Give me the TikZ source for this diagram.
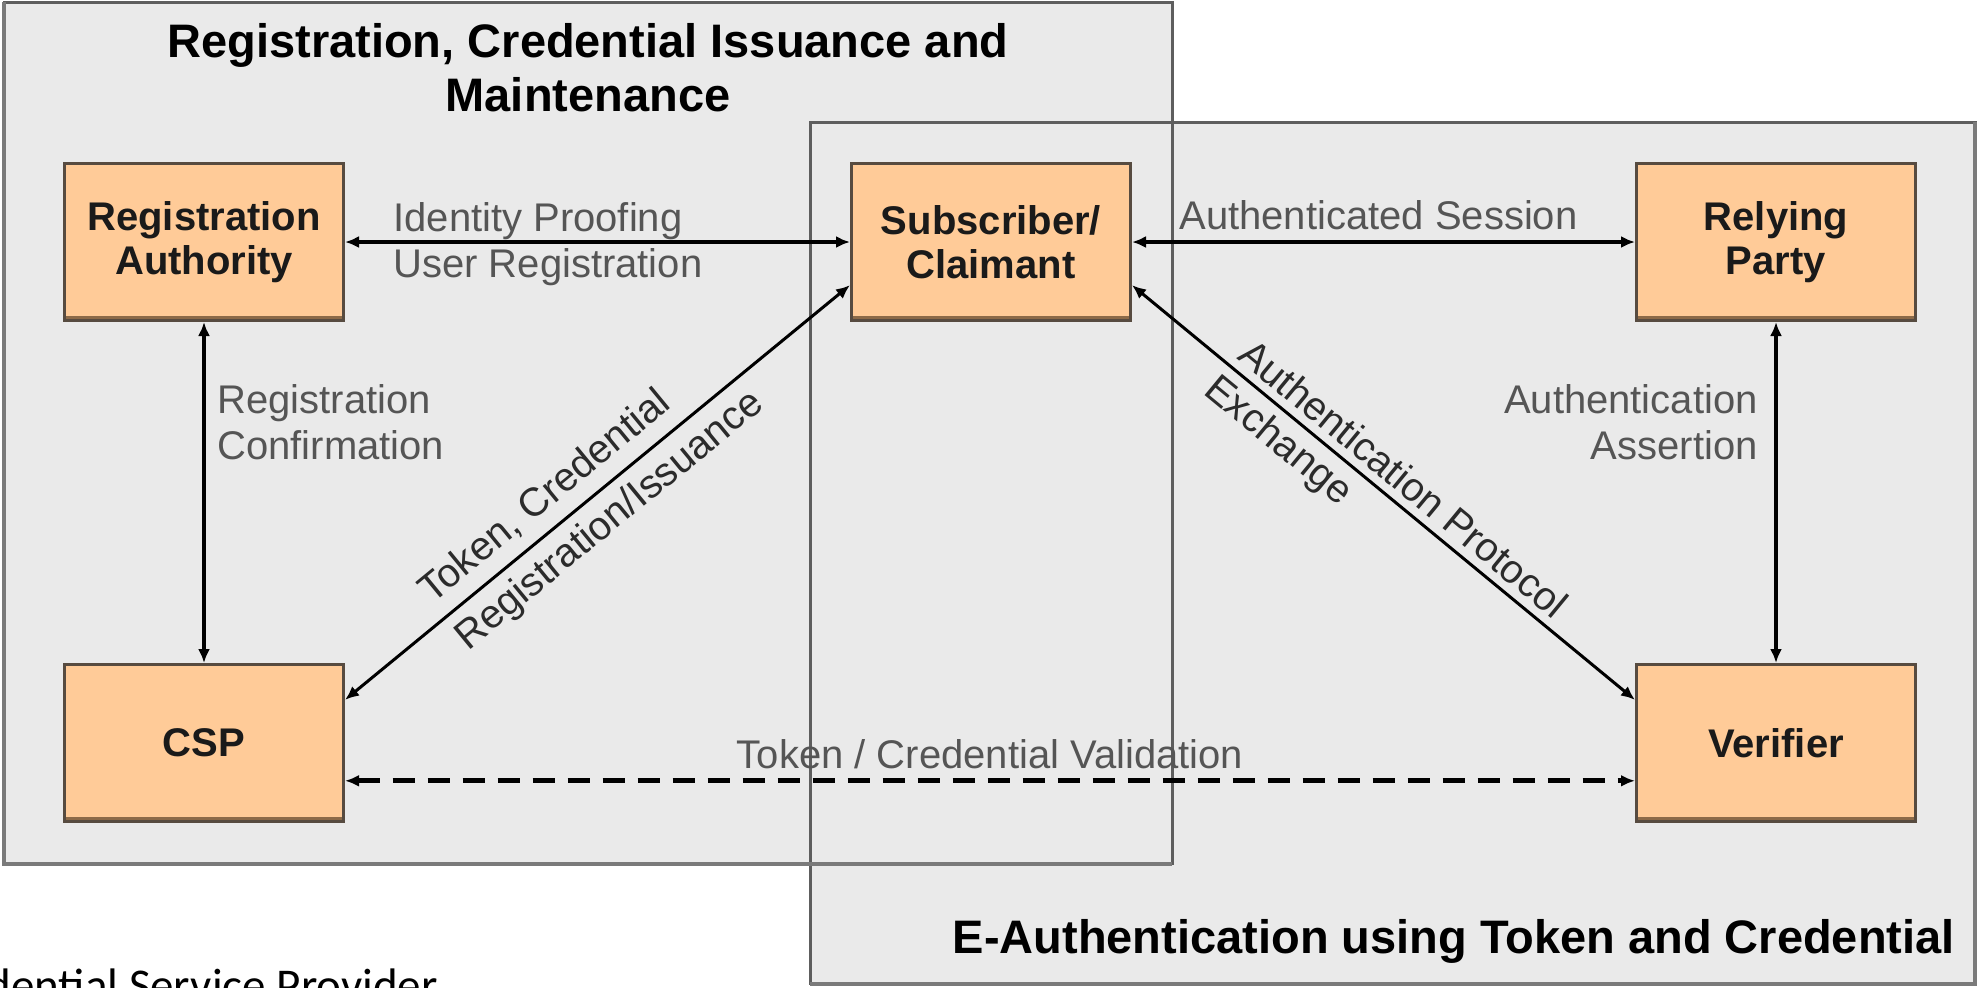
\documentclass[tikz,border=0pt]{standalone}
\usepackage{fontspec}
\setmainfont{Liberation Sans}
\newfontfamily\notefont{Carlito}
\usetikzlibrary{arrows.meta}

\definecolor{panelfill}{HTML}{EAEAEA}
\definecolor{panelline}{HTML}{5E5E5E}
\definecolor{panelbase}{HTML}{7A7A7A}
\definecolor{boxfill}{HTML}{FFCB98}
\definecolor{boxedge}{HTML}{574B40}
\definecolor{boxbase}{HTML}{8C6A48}
\definecolor{nodetext}{HTML}{1A1A1A}
\definecolor{lblgray}{HTML}{555555}
\definecolor{dlbl}{HTML}{2B2B2B}

\tikzset{
  entity/.style={draw=boxedge, fill=boxfill, line width=1.5pt,
    minimum width=139.5pt, minimum height=78.5pt, inner sep=0pt,
    align=center, text=nodetext, font=\bfseries\fontsize{20}{22}\selectfont,
    path picture={\fill[boxbase]
      ([yshift=2.2pt]path picture bounding box.south west) rectangle
      (path picture bounding box.south east);}},
  panel/.style={fill=panelfill},
  panelrule/.style={draw=panelline, line width=1.5pt},
  panelshade/.style={draw=panelbase, line width=2.4pt},
  link/.style={draw=black, line width=1.5pt, <->, >={Latex[length=7pt,width=6pt]}},
  lbl/.style={text=lblgray, font=\fontsize{20}{23}\selectfont, inner sep=0pt},
  slbl/.style={text=dlbl, font=\fontsize{20}{23}\selectfont, inner sep=0pt, sloped},
  paneltitle/.style={text=black, font=\bfseries\fontsize{23.5}{27}\selectfont, inner sep=0pt}
}

\begin{document}
\begin{tikzpicture}[x=0.5pt, y=-0.5pt]
\useasboundingbox (0,0) rectangle (1977,987);

% the two overlapping panels
\fill[panel] (4,2) rectangle (1172,863);
\fill[panel] (810,122) rectangle (1975,983);
\draw[panelrule] (4,2) rectangle (1172,863);
\draw[panelrule] (810,122) rectangle (1975,983);
% heavier lower and left edges give the panels a slight lift
\draw[panelshade] (4,2) -- (4,864) -- (1172,864);
\draw[panelshade] (810,984) -- (1975,984) -- (1975,122);

% panel titles
\node[paneltitle, align=center, anchor=north] (regtitle) at (588,23)
  {Registration, Credential Issuance and\\Maintenance};
\node[paneltitle, anchor=base east] (authtitle) at (1955,953)
  {E-Authentication using Token and Credential};

% parties
\node[entity] (ra)  at (204,242)  {Registration\\Authority};
\node[entity] (sc)  at (991,242)  {Subscriber/\\Claimant};
\node[entity] (rp)  at (1776,242) {Relying\\Party};
\node[entity] (csp) at (204,743)  {CSP};
\node[entity] (ver) at (1776,743) {Verifier};

% interactions
\draw[link, line width=2.2pt] (ra.east) -- (sc.west);
\draw[link, line width=2.2pt] (sc.east) --
  node[lbl, above=5pt, pos=0.49] (sessionlbl) {Authenticated Session} (rp.west);
\draw[link, line width=1.7pt] (ra.south) -- (csp.north);
\draw[link, line width=1.7pt] (rp.south) -- (ver.north);
\draw[link] (csp.17) --
  node[slbl, above=6pt, pos=0.434] (tokenlbl) {Token, Credential}
  node[slbl, below=5pt, pos=0.487] (issuelbl) {Registration/Issuance} (sc.197);
\draw[link] (sc.-17) --
  node[slbl, above=4pt, pos=0.51] (protolbl) {Authentication Protocol}
  node[slbl, below=4pt, pos=0.325] (exchlbl) {Exchange} (ver.163);
\draw[link, dash pattern=on 11pt off 6.5pt, line width=2.4pt] (csp.-15.8) --
  node[lbl, above=5pt, pos=0.5] (validlbl) {Token / Credential Validation} (ver.195.8);

% free-standing labels
\node[lbl, align=left, anchor=north west] (idlbl) at (393,202)
  {Identity Proofing\\User Registration};
\node[lbl, align=left, anchor=north west] (conflbl) at (217,384)
  {Registration\\Confirmation};
\node[lbl, align=right, anchor=north east] (assertlbl) at (1758,384)
  {Authentication\\Assertion};

% footnote line, cut by the page edge
\begin{scope}
  \clip (0,0) rectangle (1977,987);
  \node[anchor=base west, inner sep=0pt, text=black,
        font=\notefont\fontsize{23.5}{28}\selectfont] (cspnote) at (-78,1001)
    {Credential Service Provider};
\end{scope}
\end{tikzpicture}
\end{document}
